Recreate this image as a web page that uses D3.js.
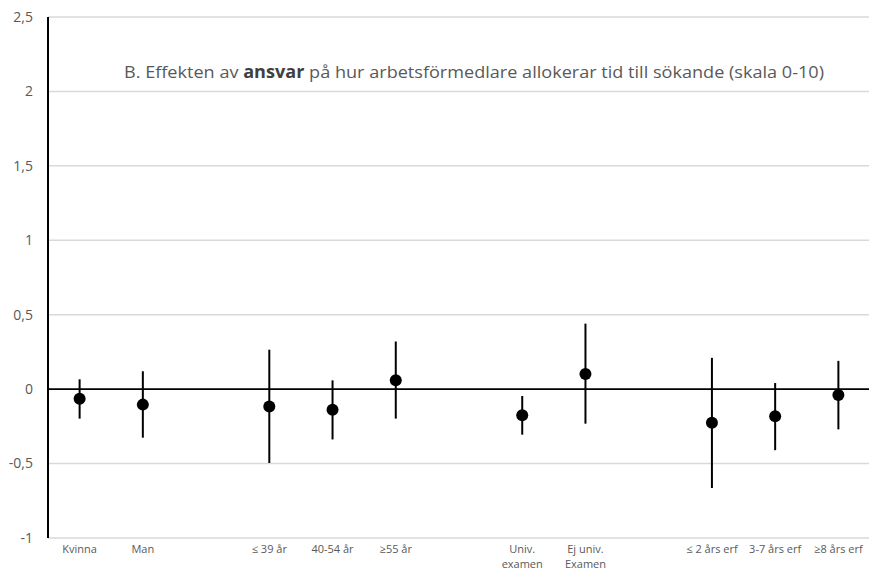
<!DOCTYPE html>
<html>
<head>
<meta charset="utf-8">
<script src="https://cdn.jsdelivr.net/npm/d3@7"></script>
<style>
  body { margin: 0; background: #fff; }
  text { font-family: "Open Sans", "Liberation Sans", sans-serif; }
</style>
</head>
<body>
<div id="chart"></div>
<script>
// Groups of categories (label lines), separated by an empty slot on the x axis
const groups = [
    [["Kvinna"], ["Man"]],
    [["≤ 39 år"], ["40-54 år"], ["≥55 år"]],
    [["Univ.", "examen"], ["Ej univ.", "Examen"]],
    [["≤ 2 års erf"], ["3-7 års erf"], ["≥8 års erf"]]
];

// Point estimates and confidence interval bounds, same order as groups
const estimates = [-0.064, -0.104, -0.116, -0.138, 0.059, -0.176, 0.102, -0.225, -0.182, -0.040];
const lower     = [-0.198, -0.326, -0.496, -0.338, -0.198, -0.306, -0.232, -0.664, -0.410, -0.270];
const upper     = [ 0.066,  0.120,  0.265,  0.059,  0.320, -0.046,  0.440,  0.210,  0.041,  0.190];

const yTicks = [-1, -0.5, 0, 0.5, 1, 1.5, 2, 2.5];

// Build flat list of categories plus x domain with gap slots
const items = [];
const domain = [];
groups.forEach((g, gi) => {
    if (gi > 0) domain.push("gap" + gi);
    g.forEach(lines => {
        const key = lines.join(" ");
        domain.push(key);
        items.push({key, lines});
    });
});
items.forEach((d, i) => {
    d.est = estimates[i];
    d.lo = lower[i];
    d.hi = upper[i];
});

const width = 869;
const height = 572;
const margin = {top: 17, right: -1, bottom: 34, left: 48};

const svg = d3.select("#chart")
    .append("svg")
    .attr("width", width)
    .attr("height", height);

const x = d3.scaleBand()
    .domain(domain)
    .range([margin.left, width - margin.right]);

const y = d3.scaleLinear()
    .domain([-1, 2.5])
    .range([height - margin.bottom, margin.top]);

// Gridlines
svg.append("g")
    .selectAll("line")
    .data(yTicks.filter(d => d !== 0))
    .enter()
    .append("line")
    .attr("x1", margin.left)
    .attr("x2", width)
    .attr("y1", d => y(d))
    .attr("y2", d => y(d))
    .attr("stroke", "#d9d9d9")
    .attr("stroke-width", 1.5);

// Y tick labels
svg.append("g")
    .selectAll("text")
    .data(yTicks)
    .enter()
    .append("text")
    .attr("x", 33)
    .attr("y", d => y(d))
    .attr("dy", "0.35em")
    .attr("text-anchor", "end")
    .attr("fill", "#595959")
    .style("font-size", "14px")
    .text(d => String(d).replace(".", ","));

// Zero line
svg.append("line")
    .attr("x1", margin.left)
    .attr("x2", width)
    .attr("y1", y(0))
    .attr("y2", y(0))
    .attr("stroke", "#000")
    .attr("stroke-width", 1.6);

// Left axis line
svg.append("line")
    .attr("x1", margin.left)
    .attr("x2", margin.left)
    .attr("y1", y(2.5))
    .attr("y2", y(-1))
    .attr("stroke", "#000")
    .attr("stroke-width", 2);

// Error bars
const cx = d => x(d.key) + x.bandwidth() / 2;

svg.append("g")
    .selectAll("line")
    .data(items)
    .enter()
    .append("line")
    .attr("x1", cx)
    .attr("x2", cx)
    .attr("y1", d => y(d.hi))
    .attr("y2", d => y(d.lo))
    .attr("stroke", "#000")
    .attr("stroke-width", 2);

// Points
svg.append("g")
    .selectAll("circle")
    .data(items)
    .enter()
    .append("circle")
    .attr("cx", cx)
    .attr("cy", d => y(d.est))
    .attr("r", 6)
    .attr("fill", "#000");

// X labels
const xl = svg.append("g")
    .selectAll("text")
    .data(items)
    .enter()
    .append("text")
    .attr("x", cx)
    .attr("y", 553)
    .attr("text-anchor", "middle")
    .attr("fill", "#595959")
    .style("font-size", "11px");

xl.selectAll("tspan")
    .data(d => d.lines.map(l => ({l, x: cx(d)})))
    .enter()
    .append("tspan")
    .attr("x", t => t.x)
    .attr("dy", (t, i) => i === 0 ? 0 : 15)
    .text(t => t.l);

// Title
const title = svg.append("text")
    .attr("x", 124)
    .attr("y", 78)
    .attr("fill", "#595959")
    .attr("textLength", 700)
    .attr("lengthAdjust", "spacingAndGlyphs")
    .style("font-size", "17px");

title.append("tspan").text("B. Effekten av ");
title.append("tspan").style("font-weight", "bold").attr("fill", "#404040").text("ansvar");
title.append("tspan").text(" på hur arbetsförmedlare allokerar tid till sökande (skala 0-10)");
</script>
</body>
</html>
